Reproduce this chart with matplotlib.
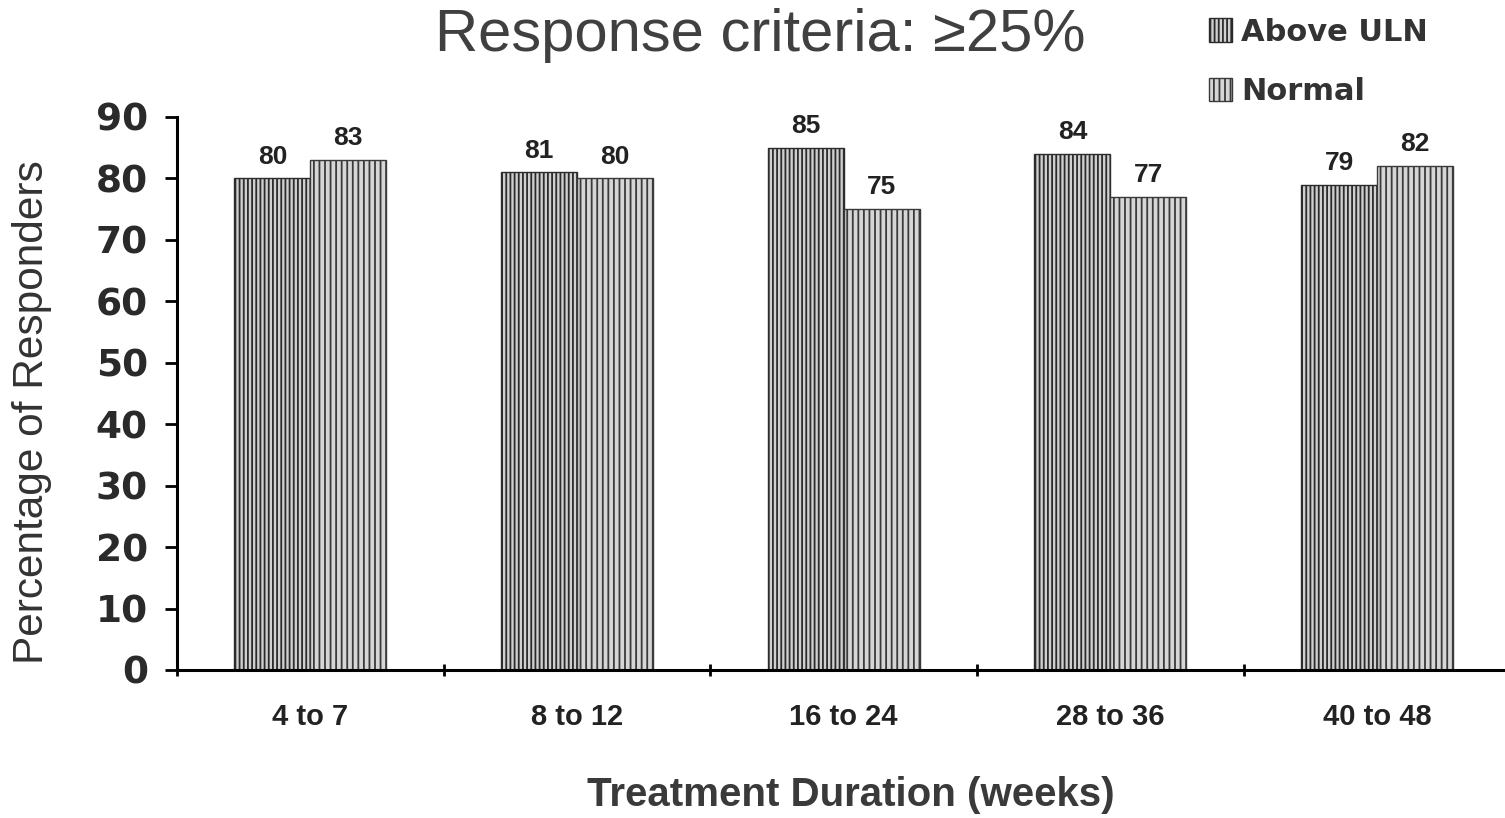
import matplotlib
matplotlib.use("Agg")
import matplotlib.pyplot as plt
import numpy as np

# responders by treatment duration
durations = ["4 to 7", "8 to 12", "16 to 24", "28 to 36", "40 to 48"]
above_uln = [80, 81, 85, 84, 79]
normal = [83, 80, 75, 77, 82]
series_names = ["Above ULN", "Normal"]
yticks = list(range(0, 100, 10))

plt.rcParams['font.family'] = ['Liberation Sans', 'DejaVu Sans']
plt.rcParams['hatch.linewidth'] = 1.3

fig = plt.figure(figsize=(15.05, 8.18), dpi=100)
ax = fig.add_axes([0.1176, 0.181, 0.886, 0.676])

x = np.arange(len(durations))
w = 0.285
b1 = ax.bar(x - w / 2, above_uln, w, facecolor='#cfcfcf', edgecolor='#2b2b2b',
            hatch='||||', linewidth=1.0, label=series_names[0])
b2 = ax.bar(x + w / 2, normal, w, facecolor='#d6d6d6', edgecolor='#3a3a3a',
            hatch='|||', linewidth=1.0, label=series_names[1])

for bars, vals in ((b1, above_uln), (b2, normal)):
    for r, v in zip(bars, vals):
        ax.annotate(f"{v}", (r.get_x() + r.get_width() / 2, v),
                    xytext=(0, 7), textcoords='offset points',
                    ha='center', va='bottom', fontsize=19, fontweight='bold',
                    color='#222222')

ax.set_xlim(-0.5, len(durations) - 0.5)
ax.set_ylim(0, 90)
ax.set_yticks(yticks)
ax.set_yticklabels([str(t) for t in yticks], fontsize=27, fontweight='bold',
                   family='DejaVu Sans', color='#2a2a2a')

# group separators as ticks, duration names between them
ax.set_xticks(np.arange(len(durations) + 1) - 0.5)
ax.set_xticklabels([])
ax.set_xticks(x, minor=True)
ax.set_xticklabels(durations, minor=True, fontsize=21, fontweight='bold',
                   color='#222222')
ax.tick_params(axis='x', which='minor', length=0, pad=24)
ax.tick_params(axis='x', which='major', length=8, width=2, direction='inout')
ax.tick_params(axis='y', length=9, width=2, pad=12)

for s in ('top', 'right'):
    ax.spines[s].set_visible(False)
ax.spines['left'].set_linewidth(2.2)
ax.spines['bottom'].set_linewidth(2.2)

fig.text(0.021, 0.496, "Percentage of Responders", rotation=90,
         ha='center', va='center', fontsize=30.5, color='#333333')
fig.text(0.565, 0.028, "Treatment Duration (weeks)", ha='center',
         va='center', fontsize=29, fontweight='bold', color='#3a3a3a')

fig.text(0.505, 0.957, "Response criteria: \u226525%", ha='center', va='center',
         fontsize=43, color='#404040')

fig.legend(loc='upper left', bbox_to_anchor=(0.785, 1.012), frameon=False,
           prop={'family': 'DejaVu Sans', 'weight': 'bold', 'size': 22},
           handlelength=0.75, handleheight=0.8, handletextpad=0.3,
           labelspacing=1.0, labelcolor='#333333')

fig.savefig("out.png", dpi=100)
